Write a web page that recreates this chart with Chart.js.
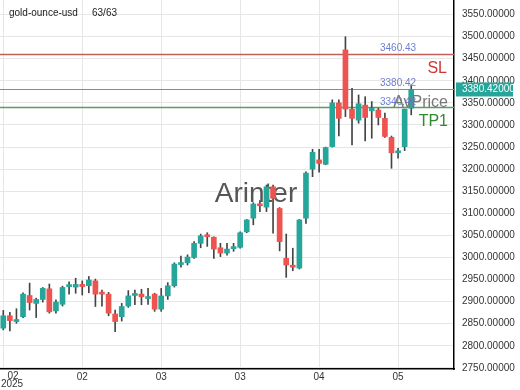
<!DOCTYPE html>
<html>
<head>
<meta charset="utf-8">
<script src="https://cdn.jsdelivr.net/npm/chart.js@4.4.1/dist/chart.umd.min.js"></script>
<style>
  body { margin: 0; background: #fff; }
  #wrap { width: 520px; height: 390px; }
</style>
</head>
<body>
<div id="wrap"><canvas id="chart1" width="520" height="390"></canvas></div>
<script>
// candles
const opens  = [2840, 2868, 2855, 2866, 2914, 2896, 2905, 2929, 2879, 2894, 2934, 2933, 2939, 2936, 2947, 2918, 2917, 2872, 2866, 2890, 2914,
                2917, 2907, 2917, 2883, 2913, 2936, 2984, 2988, 3000, 3032, 3049, 3046, 3022, 3010, 3020, 3023, 3058, 3089, 3119, 3114,
                3160, 3111, 2998, 2979, 2976, 3089, 3200, 3221, 3211, 3251, 3350, 3470, 3336, 3311, 3345, 3332, 3334, 3315, 3272, 3237, 3251, 3338];
const highs  = [2880, 2876, 2884, 2920, 2942, 2908, 2932, 2940, 2904, 2935, 2945, 2953, 2947, 2957, 2951, 2926, 2921, 2881, 2896, 2925, 2926,
                2928, 2930, 2919, 2930, 2943, 2988, 3003, 3006, 3036, 3053, 3056, 3047, 3032, 3032, 3032, 3058, 3086, 3124, 3129, 3164,
                3164, 3113, 3053, 3021, 3086, 3194, 3245, 3245, 3250, 3357, 3357, 3500, 3383, 3368, 3364, 3353, 3338, 3327, 3275, 3247, 3336, 3391];
const lows   = [2836, 2834, 2851, 2864, 2881, 2864, 2899, 2874, 2874, 2890, 2917, 2919, 2915, 2920, 2889, 2890, 2868, 2832, 2856, 2887, 2893,
                2893, 2894, 2878, 2878, 2905, 2933, 2978, 2983, 2998, 3022, 3025, 2998, 3002, 3005, 3014, 3021, 3056, 3074, 3104, 3104,
                3055, 3015, 2955, 2970, 2974, 3077, 3183, 3193, 3210, 3250, 3275, 3319, 3255, 3304, 3264, 3270, 3300, 3272, 3202, 3225, 3242, 3323];
const closes = [2868, 2857, 2857, 2917, 2898, 2905, 2930, 2877, 2899, 2932, 2936, 2939, 2934, 2949, 2917, 2917, 2874, 2855, 2889, 2913, 2916,
                2911, 2909, 2883, 2913, 2936, 2985, 2985, 3001, 3032, 3049, 3047, 3019, 3010, 3019, 3021, 3056, 3085, 3121, 3117, 3160,
                3134, 3036, 2983, 2978, 3085, 3191, 3238, 3213, 3249, 3350, 3315, 3336, 3315, 3348, 3317, 3338, 3317, 3274, 3237, 3239, 3336, 3380.42];

const nSlots = 69;  // 63 candles + empty room on the right
const tickIdx = [0, 12, 24, 36, 48, 60];
const tickText = ['02', '02', '03', '03', '04', '05'];
const yearLabel = '2025';
const yTicks = [2750, 2800, 2850, 2900, 2950, 3000, 3050, 3100, 3150, 3200, 3250, 3300, 3350, 3400, 3450, 3500, 3550];

const slLevel = 3460.43;
const priceLevel = 3380.42;
const tpLevel = 3340.42;

const green = '#26a69a';
const red = '#ef5350';
const font = 'Liberation Sans, Arial, sans-serif';

var slots = [];
for (var i = 0; i < nSlots; i++) slots.push(String(i));

var bodyColors = opens.map((o, i) => closes[i] >= o ? green : red);

const overlay = {
  id: 'overlay',
  beforeDatasetsDraw(chart) {
    const ctx = chart.ctx, y = chart.scales.y, a = chart.chartArea;
    ctx.save();
    // watermark
    ctx.font = '28px ' + font;
    ctx.fillStyle = '#555';
    ctx.textAlign = 'center';
    ctx.textBaseline = 'middle';
    ctx.fillText('Arinter', 256, 194);
    // level lines
    const lines = [[slLevel, '#c0605a', 1.5], [priceLevel, '#8a8a8a', 1], [tpLevel, '#5c9c5c', 1.5]];
    lines.forEach(l => {
      const py = Math.round(y.getPixelForValue(l[0])) + 0.5;
      ctx.strokeStyle = l[1];
      ctx.lineWidth = l[2];
      ctx.beginPath();
      ctx.moveTo(a.left, py);
      ctx.lineTo(a.right, py);
      ctx.stroke();
    });
    ctx.restore();
  },
  afterDatasetsDraw(chart) {
    const ctx = chart.ctx, y = chart.scales.y;
    const ySl = y.getPixelForValue(slLevel), yPr = y.getPixelForValue(priceLevel), yTp = y.getPixelForValue(tpLevel);
    ctx.save();
    ctx.textBaseline = 'middle';
    ctx.textAlign = 'left';
    ctx.font = '10px ' + font;
    ctx.fillStyle = '#6b7fd4';
    ctx.fillText(slLevel.toFixed(2), 380, ySl - 6);
    ctx.fillText(priceLevel.toFixed(2), 380, yPr - 6);
    ctx.fillText(tpLevel.toFixed(2), 380, yTp - 5);
    ctx.font = '16px ' + font;
    ctx.textAlign = 'right';
    ctx.fillStyle = '#d03535';
    ctx.fillText('SL', 447, ySl + 14);
    ctx.fillStyle = '#777';
    ctx.fillText('AvPrice', 448, yTp - 5);
    ctx.fillStyle = '#2e8b2e';
    ctx.fillText('TP1', 448, yTp + 14);
    // top-left caption
    ctx.textAlign = 'left';
    ctx.font = '10px ' + font;
    ctx.fillStyle = '#222';
    ctx.fillText('gold-ounce-usd', 9, 13);
    ctx.fillText('63/63', 92, 13);
    ctx.restore();
  },
  afterDraw(chart) {
    const ctx = chart.ctx, y = chart.scales.y, a = chart.chartArea;
    const py = y.getPixelForValue(priceLevel);
    ctx.save();
    ctx.fillStyle = green;
    ctx.fillRect(a.right + 2, py - 7, 57, 14);
    ctx.fillStyle = '#fff';
    ctx.font = '10px ' + font;
    ctx.textBaseline = 'middle';
    ctx.fillText(priceLevel.toFixed(5), a.right + 8, py);
    // first x label sits inside the canvas, like the reference
    ctx.fillStyle = '#333';
    ctx.textAlign = 'center';
    ctx.fillText(tickText[0], 13, a.bottom + 7);
    ctx.fillText(yearLabel, 12, a.bottom + 15);
    ctx.restore();
  }
};

new Chart(document.getElementById('chart1'), {
  type: 'bar',
  data: {
    labels: slots,
    datasets: [
      {
        label: 'wicks',
        data: lows.map((l, i) => [l, highs[i]]),
        backgroundColor: '#444',
        barThickness: 1,
        grouped: false,
        order: 1
      },
      {
        label: 'bodies',
        data: opens.map((o, i) => [o, closes[i]]),
        backgroundColor: bodyColors,
        barThickness: 5,
        minBarLength: 2,
        grouped: false,
        order: 0
      }
    ]
  },
  options: {
    responsive: false,
    animation: false,
    devicePixelRatio: 1,
    layout: { padding: 0 },
    plugins: { legend: { display: false }, tooltip: { enabled: false } },
    scales: {
      x: {
        type: 'category',
        offset: true,
        grid: {
          offset: false,
          drawTicks: false,
          color: c => tickIdx.includes(c.index) ? '#e6e6e6' : 'rgba(0,0,0,0)'
        },
        border: { color: '#000', width: 1.5 },
        ticks: {
          autoSkip: false,
          maxRotation: 0,
          padding: 2,
          color: '#333',
          font: { family: font, size: 10 },
          callback: (v, i) => {
            const k = tickIdx.indexOf(i);
            return k > 0 ? tickText[k] : '';
          }
        },
        afterFit: s => { s.height = 21; s.paddingLeft = 0; s.paddingRight = 0; }
      },
      y: {
        position: 'right',
        min: 2747.5,
        max: 3583,
        grid: { color: '#e6e6e6', drawTicks: false },
        border: { color: '#000', width: 1.5 },
        ticks: {
          padding: 8,
          color: '#333',
          font: { family: font, size: 10 },
          callback: v => Number(v).toFixed(5)
        },
        afterBuildTicks: s => { s.ticks = yTicks.map(v => ({ value: v })); },
        afterFit: s => { s.width = 66; s.paddingTop = 0; s.paddingBottom = 0; }
      }
    }
  },
  plugins: [overlay]
});
</script>
</body>
</html>
